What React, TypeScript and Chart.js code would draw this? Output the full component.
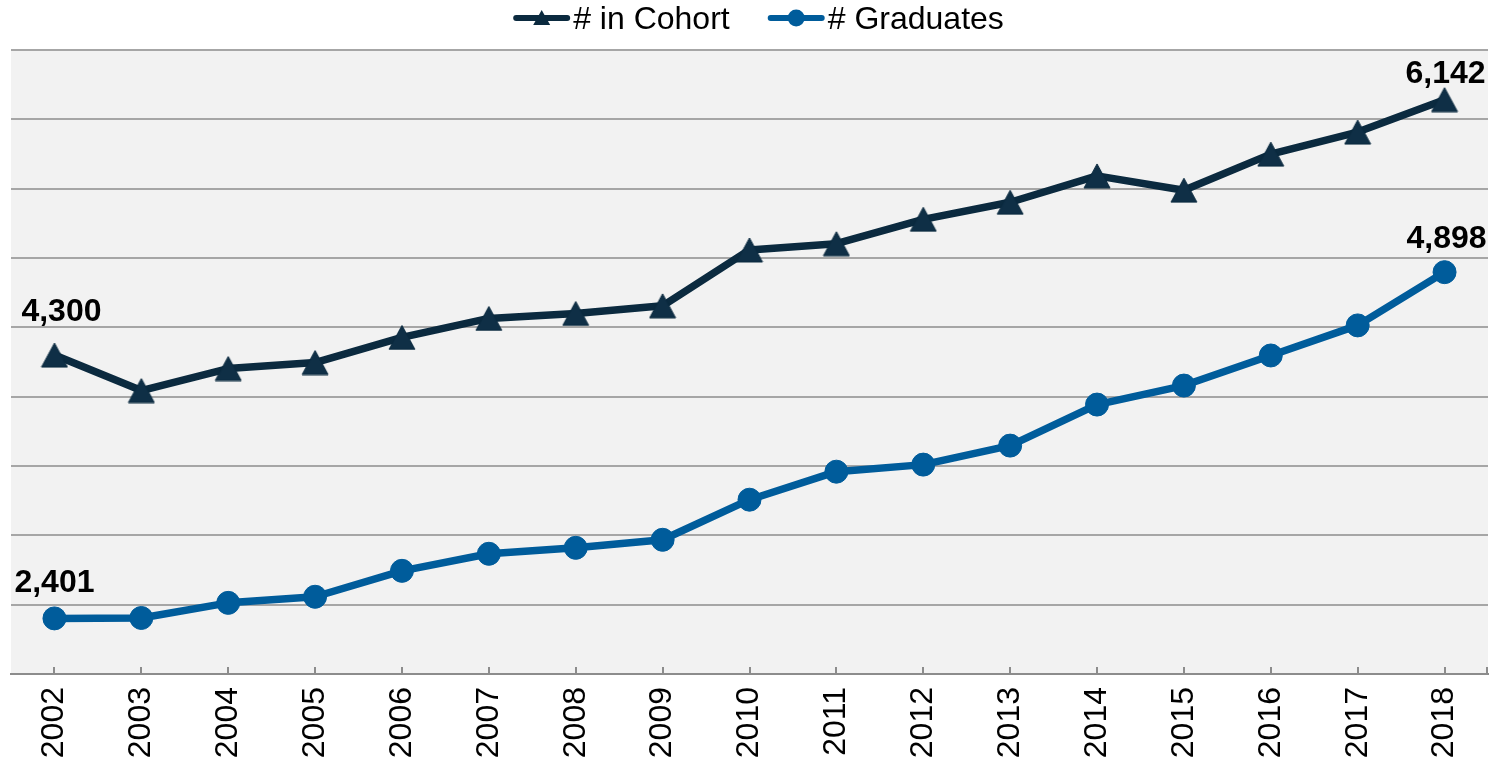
import React, { useEffect, useRef } from "react";
import { Chart, registerables } from "chart.js";

Chart.register(...registerables);

// ---- data ----
const years = ["2002", "2003", "2004", "2005", "2006", "2007", "2008", "2009", "2010", "2011", "2012", "2013", "2014", "2015", "2016", "2017", "2018"];
const cohortLabel = "# in Cohort";
const graduatesLabel = "# Graduates";
const cohortValues = [4300, 4044, 4203, 4246, 4427, 4564, 4600, 4655, 5058, 5103, 5279, 5402, 5592, 5489, 5749, 5908, 6142];
const graduatesValues = [2401, 2404, 2513, 2557, 2744, 2867, 2910, 2968, 3257, 3459, 3510, 3647, 3943, 4080, 4297, 4514, 4898];
const yMin = 2000;
const yMax = 6500;
const yStep = 500;

// ---- styles ----
const COHORT_COLOR = "#0b2a3f";
const COHORT_MARKER = "#0f2f46";
const GRAD_COLOR = "#005c9b";
const FONT = "'Liberation Sans', Arial, Helvetica, sans-serif";

function makeTriangle(w: number, h: number, fill: string, stroke: string) {
  const c = document.createElement("canvas");
  c.width = w + 2;
  c.height = h + 2;
  const ctx = c.getContext("2d")!;
  ctx.beginPath();
  ctx.moveTo(c.width / 2, 1);
  ctx.lineTo(c.width - 1, h + 1);
  ctx.lineTo(1, h + 1);
  ctx.closePath();
  ctx.fillStyle = fill;
  ctx.fill();
  ctx.strokeStyle = stroke;
  ctx.lineWidth = 1;
  ctx.stroke();
  return c;
}

const bgPlugin = {
  id: "plotBg",
  beforeDraw(chart: any) {
    const { ctx, chartArea: a } = chart;
    ctx.save();
    ctx.fillStyle = "#f2f2f2";
    ctx.fillRect(a.left, a.top, a.right - a.left, a.bottom - a.top);
    ctx.restore();
  },
};

const tickMarkPlugin = {
  id: "xTickMarks",
  afterDraw(chart: any) {
    const sx = chart.scales.x;
    const { ctx, chartArea } = chart;
    const bottom = chartArea.bottom;
    const xs: number[] = sx.ticks.map((_: any, i: number) => sx.getPixelForTick(i));
    xs.push(chartArea.right - 1);
    ctx.save();
    ctx.strokeStyle = "#8c8c8c";
    ctx.lineWidth = 2;
    ctx.beginPath();
    xs.forEach((px) => {
      const p = Math.round(px);
      ctx.moveTo(p, bottom - 7);
      ctx.lineTo(p, bottom);
    });
    ctx.stroke();
    ctx.restore();
  },
};

// offsets of first/last value labels per dataset (dx, dy above point to baseline)
const endLabelOffsets = [
  [{ dx: 7, dy: 34 }, { dx: 1, dy: 17 }],
  [{ dx: 0, dy: 26 }, { dx: 2, dy: 24 }],
];

const endLabelPlugin = {
  id: "endLabels",
  afterDatasetsDraw(chart: any) {
    const { ctx } = chart;
    ctx.save();
    ctx.font = `bold 32px ${FONT}`;
    ctx.fillStyle = "#000";
    ctx.textAlign = "center";
    ctx.textBaseline = "alphabetic";
    chart.data.datasets.forEach((ds: any, d: number) => {
      const meta = chart.getDatasetMeta(d);
      const n = meta.data.length;
      [0, n - 1].forEach((idx, k) => {
        const pt = meta.data[idx];
        const off = endLabelOffsets[d][k];
        const text = Number(ds.data[idx]).toLocaleString("en-US");
        ctx.fillText(text, pt.x + off.dx, pt.y - off.dy);
      });
    });
    ctx.restore();
  },
};

const legendPlugin = {
  id: "lineLegend",
  afterDraw(chart: any) {
    const { ctx, chartArea } = chart;
    ctx.save();
    ctx.font = `32px ${FONT}`;
    const lineLen = 57;
    const gapText = 3;
    const gapItem = 38;
    const y = 18;
    const baseline = 29;
    const items = chart.data.datasets.map((ds: any, i: number) => ({
      label: ds.label as string,
      color: ds.borderColor as string,
      marker: i === 0 ? "triangle" : "circle",
    }));
    const widths = items.map((it: any) => lineLen + gapText + ctx.measureText(it.label).width);
    const total = widths.reduce((a: number, b: number) => a + b, 0) + gapItem * (items.length - 1);
    let x = (chartArea.left + chartArea.right) / 2 + 9 - total / 2;
    items.forEach((it: any, i: number) => {
      ctx.strokeStyle = it.color;
      ctx.fillStyle = it.color;
      ctx.lineWidth = 6;
      ctx.lineCap = "round";
      ctx.beginPath();
      ctx.moveTo(x + 3, y);
      ctx.lineTo(x + lineLen - 3, y);
      ctx.stroke();
      const cx = x + lineLen / 2;
      ctx.beginPath();
      if (it.marker === "triangle") {
        ctx.moveTo(cx, y - 8);
        ctx.lineTo(cx + 8.5, y + 7);
        ctx.lineTo(cx - 8.5, y + 7);
        ctx.closePath();
      } else {
        ctx.arc(cx, y, 8.5, 0, Math.PI * 2);
      }
      ctx.fill();
      ctx.fillStyle = "#000";
      ctx.textAlign = "left";
      ctx.textBaseline = "alphabetic";
      ctx.fillText(it.label, x + lineLen + gapText, baseline);
      x += widths[i] + gapItem;
    });
    ctx.restore();
  },
};

export default function App() {
  const canvasRef = useRef<HTMLCanvasElement | null>(null);

  useEffect(() => {
    if (!canvasRef.current) return;
    const tri = makeTriangle(26, 24, COHORT_MARKER, COHORT_COLOR);
    const chart = new Chart(canvasRef.current, {
      type: "line",
      data: {
        labels: years,
        datasets: [
          {
            label: cohortLabel,
            data: cohortValues,
            borderColor: COHORT_COLOR,
            backgroundColor: COHORT_MARKER,
            borderWidth: 7.5,
            borderJoinStyle: "round",
            borderCapStyle: "round",
            pointStyle: tri as any,
            pointRadius: 13,
            tension: 0,
          },
          {
            label: graduatesLabel,
            data: graduatesValues,
            borderColor: GRAD_COLOR,
            backgroundColor: GRAD_COLOR,
            borderWidth: 7.5,
            borderJoinStyle: "round",
            borderCapStyle: "round",
            pointStyle: "circle",
            pointRadius: 11.5,
            pointBorderWidth: 1,
            pointBackgroundColor: GRAD_COLOR,
            pointBorderColor: GRAD_COLOR,
            tension: 0,
          },
        ],
      },
      options: {
        responsive: false,
        animation: false,
        layout: { autoPadding: false, padding: { top: 50, left: 11, right: 11, bottom: 0 } },
        plugins: {
          legend: { display: false },
          tooltip: { enabled: false },
        },
        scales: {
          x: {
            offset: true,
            grid: { display: false, drawTicks: false },
            border: { display: true, color: "#8c8c8c", width: 2 },
            ticks: {
              color: "#000",
              font: { family: FONT, size: 32, lineHeight: 1 },
              minRotation: 90,
              maxRotation: 90,
              autoSkip: false,
              padding: 13,
            },
            afterFit: (s: any) => {
              s.height = 89;
              s.paddingLeft = 0;
              s.paddingRight = 0;
            },
          },
          y: {
            min: yMin,
            max: yMax,
            grid: { color: "#a6a6a6", lineWidth: 2, drawTicks: false },
            border: { display: false },
            ticks: { display: false, stepSize: yStep },
            afterFit: (s: any) => {
              s.width = 0;
              s.paddingTop = 0;
              s.paddingBottom = 0;
            },
          },
        },
      } as any,
      plugins: [bgPlugin, tickMarkPlugin, endLabelPlugin, legendPlugin],
    });
    return () => chart.destroy();
  }, []);

  return (
    <canvas
      ref={canvasRef}
      width={1499}
      height={763}
      style={{ position: "absolute", left: 0, top: 0, display: "block" }}
    />
  );
}
